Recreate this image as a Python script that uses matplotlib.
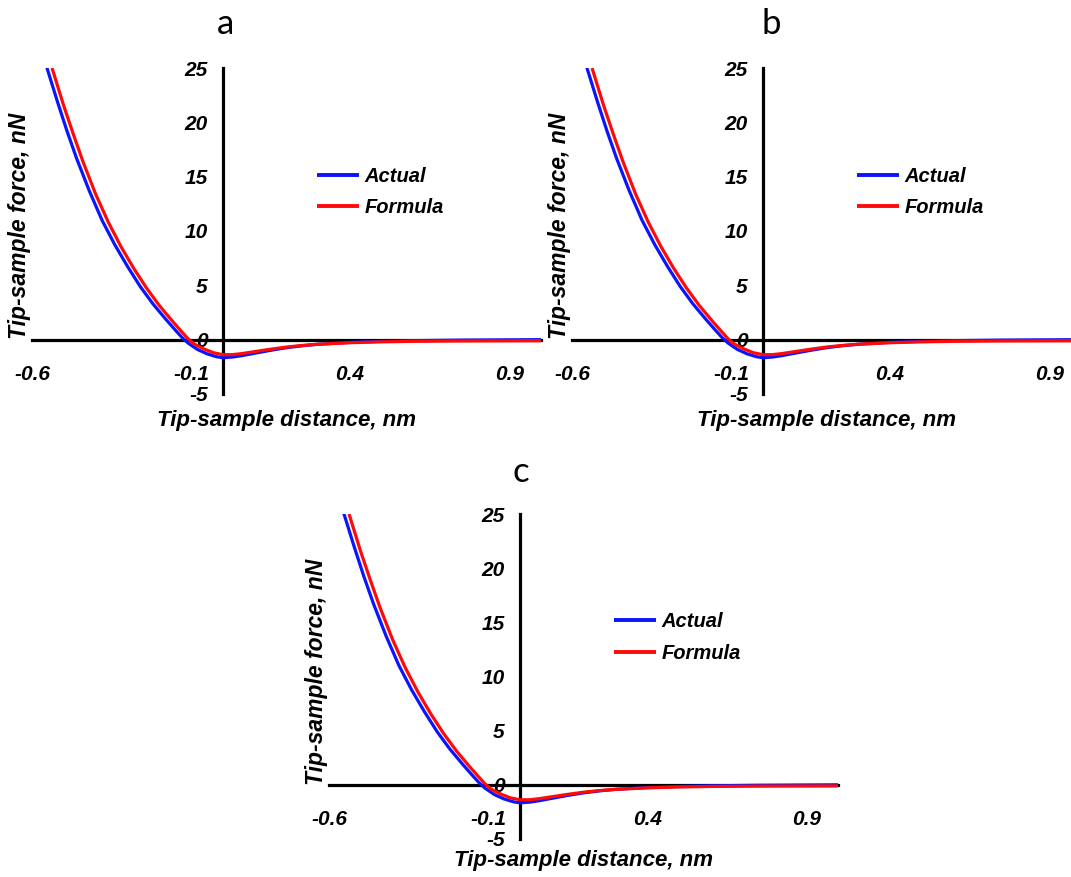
import matplotlib
matplotlib.use("Agg")
import matplotlib.pyplot as plt

# ---- data ----
x_actual = [-0.555, -0.52, -0.49, -0.46, -0.42, -0.38, -0.34, -0.30, -0.26, -0.22,
            -0.18, -0.15, -0.13, -0.11, -0.08, -0.05, -0.02, 0.0, 0.03, 0.06,
            0.10, 0.15, 0.20, 0.25, 0.30, 0.40, 0.50, 0.60, 0.75, 1.00]
y_actual = [25.2, 21.9, 19.2, 16.7, 13.7, 11.0, 8.75, 6.75, 4.9, 3.3,
            1.9, 0.9, 0.25, -0.3, -0.9, -1.3, -1.57, -1.66, -1.6, -1.47,
            -1.25, -0.98, -0.74, -0.56, -0.42, -0.25, -0.15, -0.09, -0.04, 0.0]

x_formula = [-0.537, -0.50, -0.47, -0.44, -0.40, -0.36, -0.32, -0.28, -0.24, -0.20,
             -0.16, -0.13, -0.11, -0.09, -0.06, -0.03, 0.0, 0.03, 0.06, 0.10,
             0.15, 0.20, 0.25, 0.30, 0.40, 0.50, 0.60, 0.75, 1.00]
y_formula = [25.0, 21.5, 18.9, 16.4, 13.4, 10.8, 8.55, 6.55, 4.75, 3.15,
             1.75, 0.75, 0.1, -0.4, -0.85, -1.2, -1.38, -1.38, -1.28, -1.1,
             -0.88, -0.68, -0.53, -0.42, -0.28, -0.2, -0.15, -0.12, -0.1]

x_ticks = [-0.6, -0.1, 0.4, 0.9]
y_ticks = [-5, 0, 5, 10, 15, 20, 25]
series_names = ["Actual", "Formula"]
panel_letters = ["a", "b", "c"]

W, H = 1071, 877
fig = plt.figure(figsize=(W / 100, H / 100), dpi=100)

LBL = dict(family="Liberation Sans", weight="bold", style="italic")

# panel geometry in pixels: (left, top, width, height), title pos, xlabel offset
panels = [
    ((32, 68, 509, 326), (226, 24), -0.082),
    ((572, 68, 509, 326), (771, 24), -0.082),
    ((329, 514, 509, 325), (521, 472), -0.066),
]

for letter, (rect, tpos, xl_off) in zip(panel_letters, panels):
    l, t, w, h = rect
    ax = fig.add_axes([l / W, (H - t - h) / H, w / W, h / H])
    ax.plot(x_actual, y_actual, color="#0a14ff", lw=2.3, solid_capstyle="butt",
            label=series_names[0], zorder=3)
    ax.plot(x_formula, y_formula, color="#ff0a0a", lw=2.3, solid_capstyle="butt",
            label=series_names[1], zorder=4)
    ax.set_xlim(-0.6, 1.0)
    ax.set_ylim(-5, 25)
    for s in ["top", "right"]:
        ax.spines[s].set_visible(False)
    ax.spines["left"].set_position(("data", 0))
    ax.spines["bottom"].set_position(("data", 0))
    ax.spines["left"].set_linewidth(2.3)
    ax.spines["bottom"].set_linewidth(2.3)
    ax.spines["left"].set_zorder(2)
    ax.spines["bottom"].set_zorder(2)
    ax.set_xticks(x_ticks)
    ax.set_xticklabels([f"{v:g}" for v in x_ticks])
    ax.set_yticks(y_ticks)
    ax.set_yticklabels([f"{v:g}" for v in y_ticks])
    ax.tick_params(axis="x", length=0, pad=18)
    ax.tick_params(axis="y", length=0, pad=11)
    for lab in ax.get_xticklabels() + ax.get_yticklabels():
        lab.set_fontfamily("Liberation Sans")
        lab.set_fontweight("bold")
        lab.set_fontstyle("italic")
        lab.set_fontsize(15)
    ax.patch.set_visible(False)
    ax.text(0.5, xl_off, "Tip-sample distance, nm", transform=ax.transAxes,
            ha="center", va="center", fontsize=16, **LBL)
    ax.text(-0.024, 0.515, "Tip-sample force, nN", transform=ax.transAxes,
            ha="center", va="center", rotation=90, fontsize=16.5, **LBL)
    leg = ax.legend(loc="upper left", bbox_to_anchor=(0.559, 0.697), frameon=False,
                    borderpad=0, borderaxespad=0, handlelength=2.1,
                    handletextpad=0.3, labelspacing=0.62,
                    prop=dict(family="Liberation Sans", weight="bold",
                              style="italic", size=14.5))
    for ln in leg.get_lines():
        ln.set_linewidth(2.8)
    fig.text(tpos[0] / W, 1 - tpos[1] / H, letter, ha="center", va="center",
             fontsize=25, family="Lato")

fig.savefig("out.png", dpi=100)
